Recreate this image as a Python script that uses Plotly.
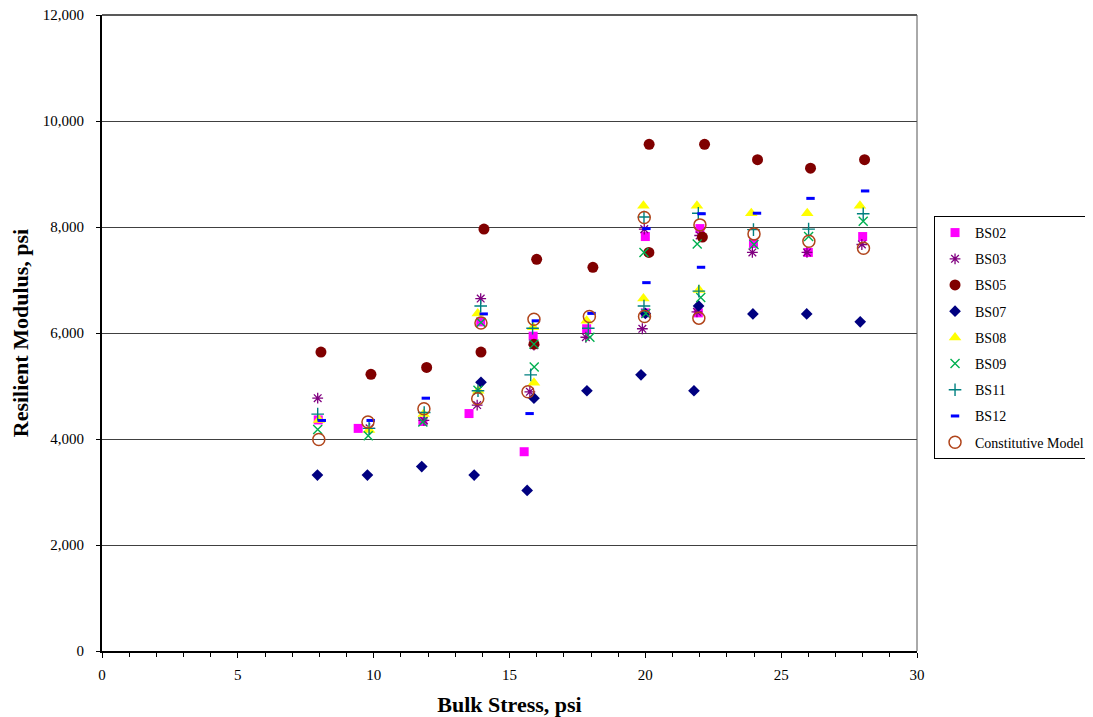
import plotly.graph_objects as go

# ---- data ----
bs02_x = [7.96, 9.43, 11.81, 13.51, 13.94, 15.54, 15.87, 17.84, 20.0, 20.0, 22.01, 21.95, 23.98, 26.0, 28.0]
bs02_y = [4360, 4200, 4330, 4480, 6210, 3760, 5940, 6080, 7820, 6380, 7970, 6380, 7690, 7520, 7820]

bs03_x = [7.94, 9.85, 11.85, 13.94, 13.81, 15.75, 15.9, 17.81, 19.89, 19.96, 21.9, 22.0, 23.94, 25.95, 27.97]
bs03_y = [4770, 4200, 4350, 6650, 4640, 4890, 5770, 5920, 6080, 7960, 6400, 7840, 7520, 7520, 7670]

bs05_x = [8.06, 9.9, 11.95, 13.95, 14.06, 15.9, 16.0, 18.07, 20.13, 20.14, 22.1, 22.18, 24.13, 26.08, 28.07]
bs05_y = [5640, 5220, 5350, 5640, 7960, 5790, 7390, 7240, 7520, 9560, 7810, 9560, 9270, 9110, 9270]

bs07_x = [7.93, 9.77, 11.77, 13.7, 13.95, 15.65, 15.9, 17.85, 19.84, 20.0, 21.79, 21.96, 23.96, 25.94, 27.91]
bs07_y = [3320, 3320, 3480, 3320, 5070, 3030, 4770, 4910, 5210, 6370, 4910, 6510, 6360, 6360, 6210]

bs08_x = [7.99, 9.83, 11.84, 13.83, 13.85, 15.9, 15.87, 17.84, 19.93, 19.93, 21.9, 21.98, 23.9, 25.96, 27.9]
bs08_y = [4360, 4170, 4470, 6370, 4910, 5060, 6110, 6230, 8400, 6650, 8400, 6810, 8260, 8260, 8400]

bs09_x = [7.94, 9.8, 11.81, 13.95, 13.84, 15.9, 15.91, 17.96, 19.95, 20.02, 21.91, 22.04, 24.0, 26.01, 28.02]
bs09_y = [4180, 4060, 4320, 6200, 4920, 5790, 5360, 5920, 7520, 6370, 7680, 6670, 7670, 7820, 8110]

bs11_x = [7.94, 9.83, 11.86, 13.94, 13.84, 15.85, 15.78, 17.9, 19.95, 19.95, 21.95, 21.97, 23.98, 26.01, 28.02]
bs11_y = [4470, 4200, 4500, 6510, 4910, 6090, 5210, 6090, 8190, 6510, 8260, 6790, 7950, 7960, 8250]

bs12_x = [8.09, 9.89, 11.92, 14.05, 15.74, 15.97, 18.02, 20.04, 20.04, 22.07, 22.05, 24.11, 26.08, 28.09]
bs12_y = [4350, 4350, 4770, 6360, 4480, 6230, 6370, 7970, 6950, 8250, 7240, 8260, 8540, 8680]

model_x = [7.98, 9.79, 11.85, 13.95, 13.83, 15.9, 15.68, 17.94, 19.96, 19.97, 22.01, 21.97, 24.0, 26.02, 28.03]
model_y = [3990, 4320, 4570, 6190, 4760, 6260, 4890, 6310, 8180, 6310, 8040, 6280, 7870, 7730, 7600]

x_ticks = [0, 5, 10, 15, 20, 25, 30]
y_ticks = [0, 2000, 4000, 6000, 8000, 10000, 12000]

FONT = "Liberation Serif, Times New Roman, serif"

series = [
    ("BS02", bs02_x, bs02_y, dict(symbol="square", size=9, color="#FF00FF")),
    ("BS03", bs03_x, bs03_y, dict(symbol="asterisk-open", size=9, color="#800080", line=dict(width=1.3, color="#800080"))),
    ("BS05", bs05_x, bs05_y, dict(symbol="circle", size=11, color="#800000")),
    ("BS07", bs07_x, bs07_y, dict(symbol="diamond", size=9, color="#000080")),
    ("BS08", bs08_x, bs08_y, dict(symbol="triangle-up", size=11, color="#FFFF00")),
    ("BS09", bs09_x, bs09_y, dict(symbol="x-thin-open", size=9, color="#00B050", line=dict(width=1.4, color="#00B050"))),
    ("BS11", bs11_x, bs11_y, dict(symbol="cross-thin-open", size=9, color="#008080", line=dict(width=1.4, color="#008080"))),
    ("BS12", bs12_x, bs12_y, dict(symbol="line-ew-open", size=6, color="#0000FF", line=dict(width=3, color="#0000FF"))),
    ("Constitutive Model", model_x, model_y, dict(symbol="circle-open", size=12, color="#B0441A", line=dict(width=1.5, color="#B0441A"))),
]

fig = go.Figure()
for i, (name, xs, ys, mk) in enumerate(series):
    fig.add_trace(go.Scatter(x=xs, y=ys, mode="markers", name=name, marker=mk,
                             legendgroup=f"g{i}"))

W, H = 1085, 709
fig.update_layout(
    width=W, height=H,
    margin=dict(l=94, r=176, t=7, b=66, autoexpand=False),
    paper_bgcolor="white", plot_bgcolor="white",
    font=dict(family=FONT, size=15, color="black"),
    showlegend=True,
    legend=dict(x=1.0209, y=0.684, xanchor="left", yanchor="top",
                bordercolor="black", borderwidth=1, bgcolor="white",
                font=dict(family=FONT, size=14, color="black"),
                tracegroupgap=5, itemwidth=30),
)

fig.update_xaxes(range=[0, 30], tickvals=x_ticks, ticks="outside", ticklen=5,
                 tickcolor="black", showgrid=False, zeroline=False, automargin=False,
                 showline=True, linecolor="black", linewidth=2,
                 minor=dict(dtick=1, ticks="outside", ticklen=4, tickcolor="black"),
                 ticklabelstandoff=4, ticklabeloverflow="allow",
                 title=dict(text="<b>Bulk Stress, psi</b>", font=dict(family=FONT, size=22), standoff=16),
                 tickfont=dict(family=FONT, size=15))
fig.update_yaxes(range=[0, 12000], tickvals=y_ticks, tickformat=",", ticks="outside", ticklen=4,
                 tickcolor="black", showgrid=True, gridcolor="#404040", gridwidth=1,
                 zeroline=False, automargin=False, showline=True, linecolor="black", linewidth=2,
                 ticklabelstandoff=9, ticklabeloverflow="allow",
                 title=dict(text="<b>Resilient Modulus, psi</b>", font=dict(family=FONT, size=22), standoff=8),
                 tickfont=dict(family=FONT, size=15))

# plot-area frame (top and right borders)
fig.add_shape(type="line", xref="paper", yref="paper", x0=0, y0=1, x1=1, y1=1,
              line=dict(color="#222222", width=1.5), layer="above")
fig.add_shape(type="line", xref="paper", yref="paper", x0=1, y0=0, x1=1, y1=1,
              line=dict(color="#555555", width=1), layer="above")

fig.write_html("out.html")
